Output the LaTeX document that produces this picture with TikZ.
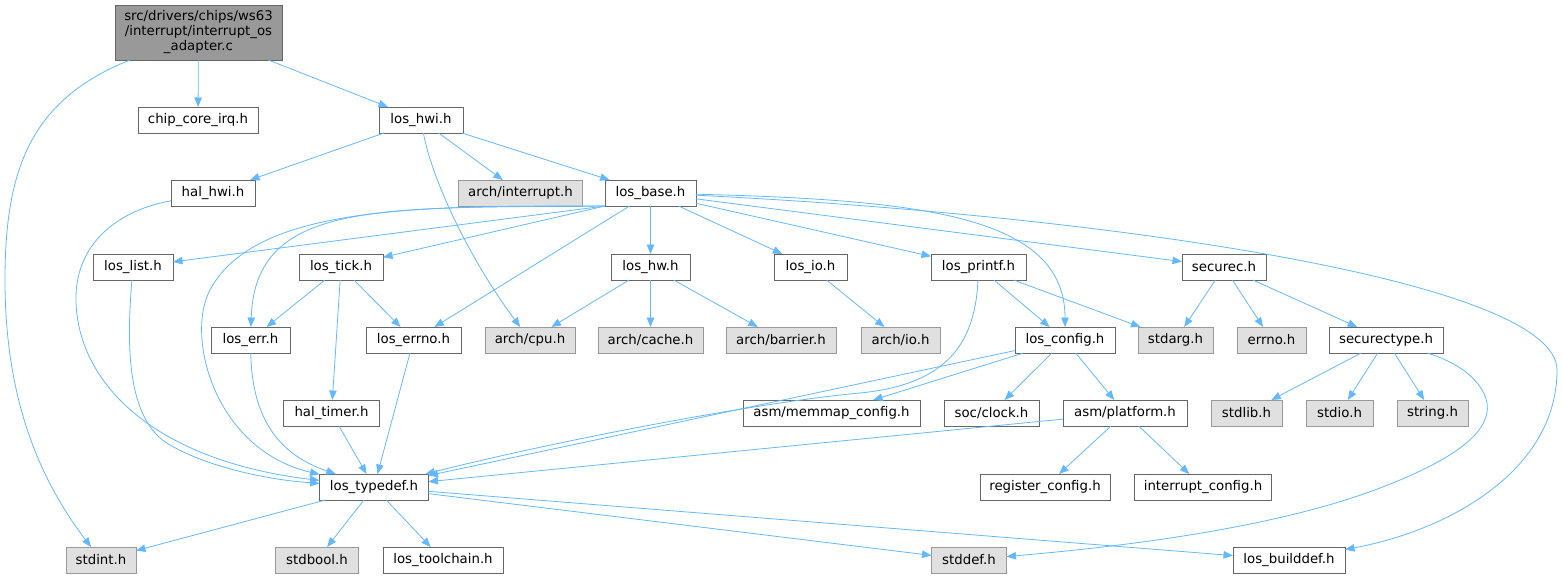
\documentclass[tikz,border=0pt]{standalone}
\usepackage{fontspec}
\setmainfont{DejaVu Sans}
\usetikzlibrary{arrows.meta}

\definecolor{edgeblue}{HTML}{63B8FF}
\definecolor{sysgray}{HTML}{E0E0E0}
\definecolor{rootgray}{HTML}{999999}
\definecolor{framegray}{HTML}{666666}

\begin{document}
\begin{tikzpicture}[x=1pt,y=-1pt,
    file/.style={draw=framegray,fill=white,line width=0.8pt,minimum height=26pt,
        inner xsep=4pt,inner ysep=0pt,outer sep=0pt,font=\fontsize{13.3}{15}\selectfont},
    sysfile/.style={file,draw=rootgray,fill=sysgray},
    rootfile/.style={file,fill=rootgray,align=center,minimum width=167pt,minimum height=55pt},
    dep/.style={draw=edgeblue,line width=0.8pt,-{Triangle[length=9.5pt,width=7.5pt]}}]
    \useasboundingbox (0,0) rectangle (1563,579);

    % files
    \node[rootfile] (root) at (198.5,32.5) {src/drivers/chips/ws63\\/interrupt/interrupt\_os\\\_adapter.c};
    \node[file,minimum width=120pt] (chipirq) at (198,120) {chip\_core\_irq.h};
    \node[file,minimum width=84pt] (loshwi) at (421,120) {los\_hwi.h};
    \node[file,minimum width=84pt] (halhwi) at (213,193) {hal\_hwi.h};
    \node[sysfile,minimum width=124pt] (archint) at (520.5,193) {arch/interrupt.h};
    \node[file,minimum width=91pt] (losbase) at (650.5,193) {los\_base.h};
    \node[file,minimum width=80pt] (loslist) at (133,267) {los\_list.h};
    \node[file,minimum width=84pt] (lostick) at (341,267) {los\_tick.h};
    \node[file,minimum width=79pt] (loshw) at (650.5,267) {los\_hw.h};
    \node[file,minimum width=73pt] (losio) at (810.5,267) {los\_io.h};
    \node[file,minimum width=95pt] (losprintf) at (978.5,267) {los\_printf.h};
    \node[file,minimum width=84pt] (securec) at (1224,267) {securec.h};
    \node[file,minimum width=79pt] (loserr) at (250.5,340) {los\_err.h};
    \node[file,minimum width=95pt] (loserrno) at (413.5,340) {los\_errno.h};
    \node[sysfile,minimum width=90pt] (archcpu) at (530,340) {arch/cpu.h};
    \node[sysfile,minimum width=105pt] (archcache) at (650.5,340) {arch/cache.h};
    \node[sysfile,minimum width=110pt] (archbarrier) at (781,340) {arch/barrier.h};
    \node[sysfile,minimum width=79pt] (archio) at (900.5,340) {arch/io.h};
    \node[file,minimum width=100pt] (losconfig) at (1065,340) {los\_config.h};
    \node[sysfile,minimum width=75pt] (stdarg) at (1175.5,340) {stdarg.h};
    \node[sysfile,minimum width=69pt] (errno) at (1271.5,340) {errno.h};
    \node[file,minimum width=114pt] (securectype) at (1386,340) {securectype.h};
    \node[file,minimum width=96pt] (haltimer) at (331.5,413) {hal\_timer.h};
    \node[file,minimum width=177pt] (memmap) at (831.5,413) {asm/memmap\_config.h};
    \node[file,minimum width=95pt] (socclock) at (991.5,413) {soc/clock.h};
    \node[file,minimum width=124pt] (platform) at (1125,413) {asm/platform.h};
    \node[sysfile,minimum width=71pt] (stdlib) at (1246.5,413) {stdlib.h};
    \node[sysfile,minimum width=67pt] (stdio) at (1339.5,413) {stdio.h};
    \node[sysfile,minimum width=71pt] (string) at (1432.5,413) {string.h};
    \node[file,minimum width=109pt] (typedef) at (374,487) {los\_typedef.h};
    \node[file,minimum width=130pt] (regconfig) at (1045,487) {register\_config.h};
    \node[file,minimum width=137pt] (intconfig) at (1203,487) {interrupt\_config.h};
    \node[sysfile,minimum width=70pt] (stdint) at (101,560) {stdint.h};
    \node[sysfile,minimum width=83pt] (stdbool) at (317,560) {stdbool.h};
    \node[file,minimum width=120pt] (toolchain) at (443,560) {los\_toolchain.h};
    \node[sysfile,minimum width=75pt] (stddef) at (969,560) {stddef.h};
    \node[file,minimum width=112pt] (builddef) at (1289,560) {los\_builddef.h};

    % top levels
    \draw[dep] (root) -- (chipirq);
    \draw[dep] (root) -- (loshwi);
    \draw[dep] (root) .. controls (30,100) and (5,170) .. (5,280) .. controls (5,400) and (40,480) .. (stdint);
    \draw[dep] (loshwi) -- (halhwi);
    \draw[dep] (loshwi) -- (archint);
    \draw[dep] (loshwi) -- (losbase);
    \draw[dep] (loshwi) .. controls (432,180) and (470,260) .. (archcpu);
    \draw[dep] (halhwi) .. controls (110,212) and (75,250) .. (76,300) .. controls (77,380) and (150,460) .. (typedef);

    % los_base.h, left side
    \draw[dep] (losbase.south west) -- (loslist);
    \draw[dep] (losbase.south west) -- (lostick);
    \draw[dep] (losbase) -- (loserrno);
    \draw[dep] (losbase.south west) .. controls (380,208) and (255,200) .. (loserr);
    \draw[dep] (losbase.south west) .. controls (420,206) and (255,205) .. (210,290) .. controls (185,337) and (215,450) .. (typedef);
    \draw[dep] (loslist) .. controls (127,340) and (125,420) .. (170,445) .. controls (210,468) and (270,480) .. (typedef);
    \draw[dep] (lostick) -- (loserr);
    \draw[dep] (lostick) -- (loserrno);
    \draw[dep] (lostick) -- (haltimer);
    \draw[dep] (loserr) .. controls (252,420) and (280,455) .. (typedef);
    \draw[dep] (loserrno) -- (typedef);
    \draw[dep] (haltimer) -- (typedef);

    % los_base.h, right side
    \draw[dep] (losbase) -- (loshw);
    \draw[dep] (losbase) -- (losio);
    \draw[dep] (losbase) -- (losprintf);
    \draw[dep] (losbase) -- (securec);
    \draw[dep] (losbase) .. controls (920,200) and (1065,215) .. (losconfig);
    \draw[dep] (losbase) .. controls (1100,215) and (1557,280) .. (1557,370) .. controls (1557,470) and (1450,530) .. (builddef);
    \draw[dep] (loshw) -- (archcpu);
    \draw[dep] (loshw) -- (archcache);
    \draw[dep] (loshw) -- (archbarrier);
    \draw[dep] (losio) -- (archio);
    \draw[dep] (losprintf) -- (losconfig);
    \draw[dep] (losprintf) -- (stdarg);
    \draw[dep] (losprintf) .. controls (975,350) and (940,385) .. (860,393) .. controls (760,402) and (560,440) .. (typedef);

    % config and securec
    \draw[dep] (losconfig) -- (typedef);
    \draw[dep] (losconfig) -- (memmap);
    \draw[dep] (losconfig) -- (socclock);
    \draw[dep] (losconfig) -- (platform);
    \draw[dep] (platform) -- (typedef);
    \draw[dep] (platform) -- (regconfig);
    \draw[dep] (platform) -- (intconfig);
    \draw[dep] (securec) -- (stdarg);
    \draw[dep] (securec) -- (errno);
    \draw[dep] (securec) -- (securectype);
    \draw[dep] (securectype) -- (stdlib);
    \draw[dep] (securectype) -- (stdio);
    \draw[dep] (securectype) -- (string);
    \draw[dep] (securectype) .. controls (1475,368) and (1490,395) .. (1487,412) .. controls (1483,440) and (1440,465) .. (1380,488) .. controls (1260,534) and (1080,550) .. (stddef);

    % los_typedef.h
    \draw[dep] (typedef) -- (stdint);
    \draw[dep] (typedef) -- (stdbool);
    \draw[dep] (typedef) -- (toolchain);
    \draw[dep] (typedef) -- (stddef);
    \draw[dep] (typedef) -- (builddef);
\end{tikzpicture}
\end{document}
